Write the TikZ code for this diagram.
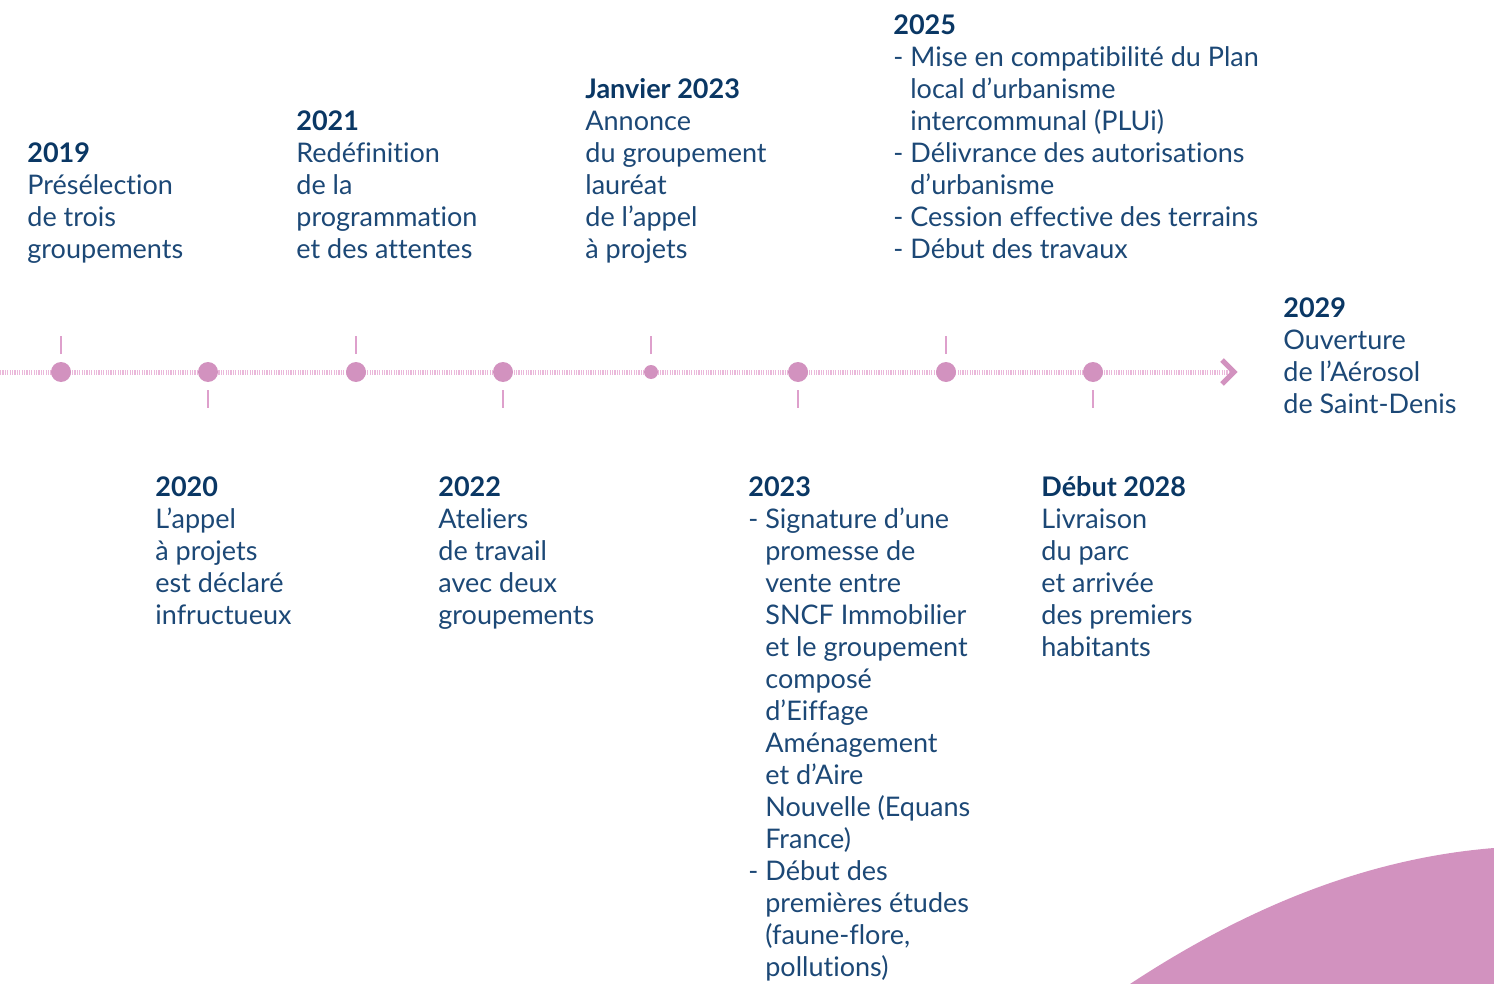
\documentclass[tikz,border=0pt]{standalone}
\usepackage{fontspec}
\setmainfont{Lato}[Ligatures=NoCommon]
\usetikzlibrary{calc}
\usetikzlibrary{positioning}

\definecolor{navy}{RGB}{10,55,100}
\definecolor{navytext}{RGB}{28,72,118}
\definecolor{rose}{RGB}{210,146,191}
\definecolor{roselight}{RGB}{234,184,218}
\definecolor{rosetick}{RGB}{222,160,204}

\tikzset{
  dot/.style={circle,fill=rose,inner sep=0pt,minimum size=10pt},
  smalldot/.style={circle,fill=rose,inner sep=0pt,minimum size=7pt},
  tickmark/.style={draw=rosetick,line width=1pt},
  event/.style={anchor=north west,align=left,inner sep=0pt,text=navytext,
    font=\fontsize{13.5}{16}\selectfont},
}
\newcommand{\yr}[1]{\rule{0pt}{10pt}{\bfseries\color{navy}#1}}
\newcommand{\ind}{\hphantom{- }}

\begin{document}
\begin{tikzpicture}[x=0.5pt,y=-0.5pt]
    \useasboundingbox (0,0) rectangle (1494,984);
    \coordinate (start) at (0,372);
    \coordinate (end) at (1234,372);

    % decoration bottom right
    \fill[rose] (1130,984) .. controls (1250,905) and (1370,858) .. (1494,848) -- (1494,984) -- cycle;

    % timeline
    \draw[roselight,line width=2.5pt,dash pattern=on 0.6pt off 0.6pt] (start) -- (end);
    \draw[rose,line width=2.6pt] (end)++(-12,-12) -- (end) -- ++(-12,12);

    \node[dot] (d2019) at (61,372) {};
    \node[dot] (d2020) at (208,372) {};
    \node[dot] (d2021) at (356,372) {};
    \node[dot] (d2022) at (503,372) {};
    \node[smalldot] (dj2023) at (651,372) {};
    \node[dot] (d2023) at (798,372) {};
    \node[dot] (d2025) at (946,372) {};
    \node[dot] (d2028) at (1093,372) {};

    \draw[tickmark] (d2019)++(0,-18) -- ++(0,-18);
    \draw[tickmark] (d2021)++(0,-18) -- ++(0,-18);
    \draw[tickmark] (dj2023)++(0,-18) -- ++(0,-18);
    \draw[tickmark] (d2025)++(0,-18) -- ++(0,-18);
    \draw[tickmark] (d2020)++(0,18) -- ++(0,18);
    \draw[tickmark] (d2022)++(0,18) -- ++(0,18);
    \draw[tickmark] (d2023)++(0,18) -- ++(0,18);
    \draw[tickmark] (d2028)++(0,18) -- ++(0,18);

    % events above
    \node[event] (t2019) at (27,142) {\yr{2019}\\Présélection\\de trois\\groupements};
    \node[event] (t2021) at (296,110) {\yr{2021}\\Redéfinition\\de la\\programmation\\et des attentes};
    \node[event] (tj2023) at (585,78) {\yr{Janvier 2023}\\Annonce\\du groupement\\lauréat\\de l’appel\\à projets};
    \node[event] (t2025) at (893,14) {\yr{2025}\\- Mise en compatibilité du Plan\\\ind local d’urbanisme\\\ind intercommunal (PLUi)\\- Délivrance des autorisations\\\ind d’urbanisme\\- Cession effective des terrains\\- Début des travaux};

    % events below
    \node[event] (t2020) at (155,476) {\yr{2020}\\L’appel\\à projets\\est déclaré\\infructueux};
    \node[event] (t2022) at (438,476) {\yr{2022}\\Ateliers\\de travail\\avec deux\\groupements};
    \node[event] (t2023) at (748,476) {\yr{2023}\\- Signature d’une\\\ind promesse de\\\ind vente entre\\\ind SNCF Immobilier\\\ind et le groupement\\\ind composé\\\ind d’Eiffage\\\ind Aménagement\\\ind et d’Aire\\\ind Nouvelle (Equans\\\ind France)\\- Début des\\\ind premières études\\\ind (faune-flore,\\\ind pollutions)};
    \node[event] (t2028) at (1041,476) {\yr{Début 2028}\\Livraison\\du parc\\et arrivée\\des premiers\\habitants};

    % end
    \node[event] (t2029) at (1283,297) {\yr{2029}\\Ouverture\\de l’Aérosol\\de Saint-Denis};
\end{tikzpicture}
\end{document}
